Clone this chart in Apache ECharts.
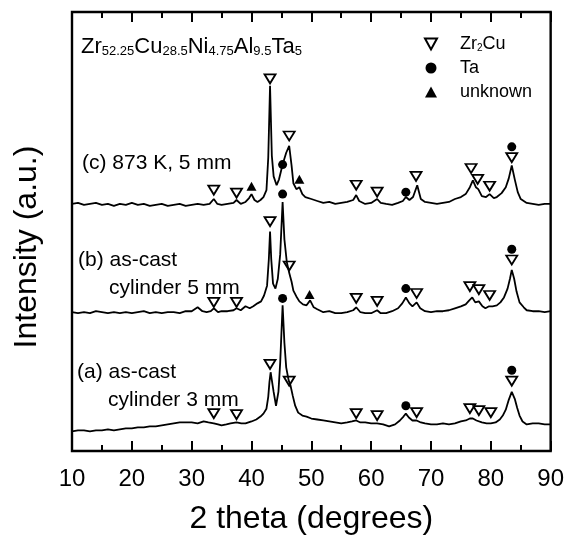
<!DOCTYPE html>
<html>
<head>
<meta charset="utf-8">
<style>html,body{margin:0;padding:0;background:#fff}#main{width:567px;height:540px}</style>
<script src="https://cdn.jsdelivr.net/npm/echarts@6/dist/echarts.min.js"></script>
</head>
<body>
<div id="main"></div>
<script>
var myChart = echarts.init(document.getElementById('main'));
var FONT = '"Liberation Sans", Arial, sans-serif';

// 2 theta (deg), intensity (a.u., curves already offset)
var curveC = [[10,251],[11,252],[12,250],[13,251],[14,252],[15,250],[16,251],[17,249],[18,251],[19,250],[20,252],[21,250],[22,251],[23,249],[24,250],[25,251],[26,249],[27,250],[28,251],[29,249],[30,250],[31,251],[32,250],[33,251],[33.7,256],[34.3,251],[35,250],[36,251],[37,252],[37.5,255],[38.2,251],[39,253],[39.6,257],[40,261],[40.5,255],[41,253],[41.5,255],[42,258],[42.5,265],[42.8,298],[43.1,371],[43.4,300],[43.7,279],[44.2,270],[44.6,276],[45.2,291],[45.8,303],[46.3,310],[46.7,290],[47,272],[47.5,266],[48,268],[48.5,261],[49,258],[50,256],[51,254],[52,252],[53,253],[54,251],[55,252],[56,253],[57,255],[57.5,260],[58,254],[59,251],[60,252],[61,256],[61.6,252],[62.5,251],[63.5,250],[64.5,252],[65.3,254],[65.8,258],[66.4,255],[67,258],[67.7,270],[68.3,256],[69,253],[70,252],[71,251],[72,252],[73,253],[74,256],[75,258],[75.8,261],[76.5,268],[77,275],[77.5,268],[77.9,266],[78.5,259],[79.2,258],[79.8,261],[80.5,257],[81,258],[81.8,262],[82.5,268],[83,277],[83.5,290],[84,276],[84.5,263],[85,256],[86,252],[87,251],[88,250],[89,251],[90,251]];
var curveB = [[10,141],[11,140],[12,141],[13,140],[14,142],[15,141],[16,140],[17,141],[18,140],[19,141],[20,140],[21,141],[22,142],[23,140],[24,141],[25,140],[26,141],[27,141],[28,140],[29,142],[30,142],[31,146],[31.8,142],[32.5,141],[33.2,142],[33.7,145],[34.4,141],[35,142],[36,142],[37,143],[37.5,145],[38.2,143],[39,147],[39.7,145],[40.3,147],[41,150],[41.6,152],[42.1,158],[42.6,168],[42.9,195],[43.1,223],[43.3,195],[43.6,170],[44,165],[44.4,175],[44.8,200],[45.2,253],[45.5,215],[45.9,192],[46.3,181],[46.7,172],[47,163],[47.5,157],[48,152],[48.6,149],[49.2,148],[49.8,153],[50.4,146],[51,144],[52,141],[53,142],[54,140],[55,140],[56,141],[57,143],[57.5,146],[58.2,141],[59,140],[60,140],[61,143],[61.6,140],[62.5,140],[63.5,142],[64.5,145],[65.2,150],[65.8,156],[66.4,150],[66.9,147],[67.6,151],[68.2,145],[69,142],[70,141],[71,142],[72,142],[73,143],[74,145],[75,147],[75.8,149],[76.4,153],[76.9,156],[77.4,151],[78,152],[78.6,147],[79.1,145],[79.7,147],[80.3,147],[81,148],[81.6,151],[82.2,156],[82.8,165],[83.2,175],[83.5,184],[83.9,175],[84.3,162],[84.8,151],[85.5,146],[86,143],[87,142],[88,142],[89,141],[90,142]];
var curveA = [[10,20],[11,21],[12,21],[13,20],[14,21],[15,21],[16,22],[17,21],[18,22],[19,23],[20,23],[21,24],[22,24],[23,25],[24,25],[25,26],[26,27],[27,28],[28,29],[29,29],[30,29],[31,28],[32,30],[32.8,29],[33.7,28],[34.4,27],[35,26],[35.8,27],[36.5,28],[37.5,29],[38.3,28],[39,28],[40,30],[40.8,32],[41.5,35],[42,38],[42.5,43],[42.8,55],[43,70],[43.2,80],[43.4,72],[43.7,60],[44.1,46],[44.5,60],[44.8,90],[45.2,148],[45.5,110],[45.8,85],[46.2,72],[46.5,67],[46.9,56],[47.3,46],[47.8,39],[48.5,36],[49.2,35],[50,33],[51,32],[52,31],[53,30],[54,29],[55,28],[56,29],[56.8,30],[57.5,31],[58.2,29],[59,29],[60,28],[61,28],[62,27],[63,25],[64,27],[64.8,31],[65.4,35],[65.8,38],[66.3,34],[66.9,31],[67.6,31],[68.3,29],[69,28],[70,27],[71,27],[72,28],[73,27],[74,28],[75,30],[75.8,31],[76.5,33],[77,33],[77.6,31],[78.5,29],[79.3,28],[80,28],[80.8,29],[81.5,32],[82,36],[82.5,42],[83,52],[83.5,60],[84,53],[84.4,44],[84.8,36],[85.3,30],[86,27],[87,28],[88,28],[89,27],[90,27]];

// phase markers
var zr2cuMarks = [[43.1,378],[46.3,320],[33.7,265],[37.5,262],[57.5,270],[61,263],[67.5,279],[76.7,287],[77.8,276],[79.8,269],[83.5,298],
    [43.1,233],[46.3,188],[33.7,151],[37.5,151],[57.5,155],[61,152],[67.6,160],[76.5,167],[78,164],[79.8,158],[83.5,194],
    [43.1,88],[46.3,71],[33.7,38],[37.5,37],[57.5,38],[61,36],[67.6,39],[76.5,43],[78,41],[80,39],[83.5,71]];
var taMarks = [[45.2,291],[65.8,263],[83.5,309],[45.2,261],[65.8,165],[83.5,205],[45.2,155],[65.8,46],[83.5,82]];
var unknownMarks = [[40,269],[48,276],[49.7,159]];

var xTicks = {min: 10, max: 90, interval: 10};

var tick = {inside: true, length: 10, lineStyle: {color: '#000', width: 2}};
var minor = {show: true, splitNumber: 2, length: 6, lineStyle: {color: '#000', width: 2}};

var lineSeries = function(data) {
    return {
        type: 'line', data: data, showSymbol: false, silent: true,
        lineStyle: {color: '#000', width: 1.8}
    };
};

var option = {
    animation: false,
    backgroundColor: '#fff',
    grid: {left: 72, right: 15, top: 12, bottom: 82, show: true, borderColor: '#000', borderWidth: 2.4},
    legend: {
        orient: 'vertical', left: 419, top: 30,
        itemWidth: 12, itemHeight: 11, itemGap: 6,
        data: ['Zr2Cu', 'Ta', 'unknown'],
        formatter: function(name) {
            return name === 'Zr2Cu' ? '{a|Zr}{s|2}{a|Cu}' : '{a|' + name + '}';
        },
        textStyle: {
            padding: [0, 0, 0, 18],
            rich: {
                a: {fontSize: 18, fontFamily: FONT, color: '#000', lineHeight: 18},
                s: {fontSize: 10, fontFamily: FONT, color: '#000', lineHeight: 4, verticalAlign: 'bottom'}
            }
        }
    },
    xAxis: [{
        type: 'value', position: 'bottom', min: xTicks.min, max: xTicks.max, interval: xTicks.interval,
        axisLine: {show: false}, axisTick: tick, minorTick: minor, splitLine: {show: false},
        axisLabel: {margin: 16, fontSize: 24, color: '#000', fontFamily: FONT},
        name: '2 theta (degrees)', nameLocation: 'middle', nameGap: 52,
        nameTextStyle: {fontSize: 32, color: '#000', fontFamily: FONT}
    }, {
        type: 'value', position: 'top', min: xTicks.min, max: xTicks.max, interval: xTicks.interval,
        axisLine: {show: false}, axisTick: tick, minorTick: minor, splitLine: {show: false},
        axisLabel: {show: false}
    }],
    yAxis: {
        type: 'value', min: 0, max: 446,
        axisLine: {show: false}, axisTick: {show: false}, axisLabel: {show: false}, splitLine: {show: false}
    },
    graphic: [
        {type: 'text', x: 27, y: 247, rotation: Math.PI / 2,
            style: {text: 'Intensity (a.u.)', fontSize: 32, fontFamily: FONT, fill: '#000', align: 'center', verticalAlign: 'middle'}},
        {type: 'text', x: 81, y: 47,
            style: {
                text: '{m|Zr}{s|52.25}{m|Cu}{s|28.5}{m|Ni}{s|4.75}{m|Al}{s|9.5}{m|Ta}{s|5}',
                verticalAlign: 'middle',
                rich: {
                    m: {fontSize: 22, fontFamily: FONT, fill: '#000', lineHeight: 22},
                    s: {fontSize: 13, fontFamily: FONT, fill: '#000', lineHeight: 5, verticalAlign: 'bottom'}
                }
            }},
        {type: 'text', x: 82, y: 163, style: {text: '(c) 873 K, 5 mm', fontSize: 21, fontFamily: FONT, fill: '#000', verticalAlign: 'middle'}},
        {type: 'text', x: 78, y: 260, style: {text: '(b) as-cast', fontSize: 21, fontFamily: FONT, fill: '#000', verticalAlign: 'middle'}},
        {type: 'text', x: 109, y: 288, style: {text: 'cylinder 5 mm', fontSize: 21, fontFamily: FONT, fill: '#000', verticalAlign: 'middle'}},
        {type: 'text', x: 77, y: 372, style: {text: '(a) as-cast', fontSize: 21, fontFamily: FONT, fill: '#000', verticalAlign: 'middle'}},
        {type: 'text', x: 108, y: 400, style: {text: 'cylinder 3 mm', fontSize: 21, fontFamily: FONT, fill: '#000', verticalAlign: 'middle'}}
    ],
    series: [
        lineSeries(curveA),
        lineSeries(curveB),
        lineSeries(curveC),
        {
            name: 'Zr2Cu', type: 'scatter', data: zr2cuMarks,
            symbol: 'path://M0,0L10,0L5,9Z', symbolSize: [11, 9],
            itemStyle: {color: '#fff', borderColor: '#000', borderWidth: 1.8, opacity: 1}
        },
        {
            name: 'Ta', type: 'scatter', data: taMarks,
            symbol: 'circle', symbolSize: 9,
            itemStyle: {color: '#000', opacity: 1}
        },
        {
            name: 'unknown', type: 'scatter', data: unknownMarks,
            symbol: 'triangle', symbolSize: [10, 9],
            itemStyle: {color: '#000', opacity: 1}
        }
    ]
};

myChart.setOption(option);
</script>
</body>
</html>
